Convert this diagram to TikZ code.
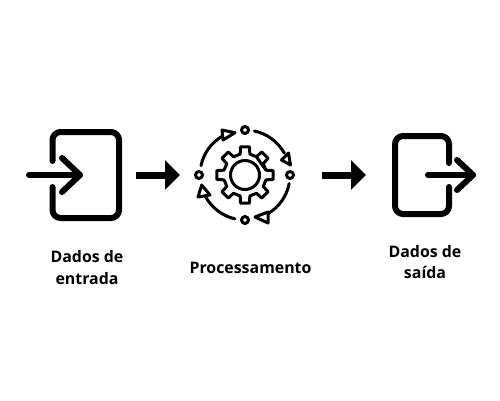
\documentclass[tikz,border=0pt]{standalone}
\usepackage{fontspec}
\setmainfont{Open Sans}
\usetikzlibrary{arrows.meta,positioning,calc}

\begin{document}
\begin{tikzpicture}[
    x=1pt, y=-1pt,
    icon/.style={draw=black, line width=6pt, line cap=round, line join=round},
    fineline/.style={draw=black, line width=3pt, line cap=round, line join=round},
    tinyhead/.style={draw=black, line width=3pt, line join=round},
    blockarrow/.style={line width=7pt, -{Triangle[length=15pt,width=29pt]}},
    caption/.style={font=\bfseries\fontsize{15.9}{21.5}\selectfont, align=center}
]
\useasboundingbox (0,0) rectangle (500,400);

% Points of the flow
\coordinate (inStart) at (29,175);
\coordinate (inTip) at (80,175);
\coordinate (flowAstart) at (136,175);
\coordinate (flowAend) at (180,175);
\coordinate (gear) at (245,175);
\coordinate (flowBstart) at (322,175);
\coordinate (flowBend) at (366,175);
\coordinate (outStart) at (428,175);
\coordinate (outTip) at (473,175);

% Entry door
\draw[icon, rounded corners=8pt] (52.5,161) -- (52.5,132) -- (119,132) -- (119,218) -- (52.5,218) -- (52.5,187);
\draw[icon] (inStart) -- (inTip);
\draw[icon] (62,158) -- (inTip) -- (62,192);

% Gear
\draw[fineline] (gear) circle (14.5);
\draw[fineline] \foreach \a in {0,45,...,315} {
    ($(gear)+(\a-13:21.5)$) -- ($(gear)+(\a-9:28.5)$) -- ($(gear)+(\a+9:28.5)$) -- ($(gear)+(\a+13:21.5)$) -- ($(gear)+(\a+32:21.5)$)
} -- cycle;

% Ring around the gear
\node[fineline, circle, inner sep=0pt, minimum size=7pt] (top) at (245,130) {};
\node[fineline, circle, inner sep=0pt, minimum size=7pt] (right) at (290,175) {};
\node[fineline, circle, inner sep=0pt, minimum size=7pt] (bottom) at (245,220) {};
\node[fineline, circle, inner sep=0pt, minimum size=7pt] (left) at (199,175) {};
\draw[fineline] ($(gear)+(-78:45)$) arc[start angle=-78, end angle=-29, radius=45];
\draw[fineline] ($(gear)+(11:45)$) arc[start angle=11, end angle=58, radius=45];
\draw[fineline] ($(gear)+(103:45)$) arc[start angle=103, end angle=152, radius=45];
\draw[fineline] ($(gear)+(192:45)$) arc[start angle=192, end angle=240, radius=45];
\draw[tinyhead] (288.5,153) -- (281.5,160) -- (290.5,165) -- cycle;
\draw[tinyhead] (268,212) -- (255,217) -- (268,223) -- cycle;
\draw[tinyhead] (201.7,185) -- (198,197) -- (210,195) -- cycle;
\draw[tinyhead] (222,130) -- (235,132.7) -- (223,140) -- cycle;

% Exit door
\draw[icon, rounded corners=8pt] (449,163) -- (449,136) -- (395,136) -- (395,214) -- (449,214) -- (449,187);
\draw[icon] (outStart) -- (outTip);
\draw[icon] (457,160) -- (outTip) -- (457,190);

% Arrows
\draw[blockarrow] (flowAstart) -- (flowAend);
\draw[blockarrow] (flowBstart) -- (flowBend);

% Labels
\node[caption] (entrada) at (87,267.5) {Dados de\\entrada};
\node[caption] (processamento) at (250.5,267.5) {Processamento};
\node[caption] (saida) at (425,262) {Dados de\\saída};

\end{tikzpicture}
\end{document}
